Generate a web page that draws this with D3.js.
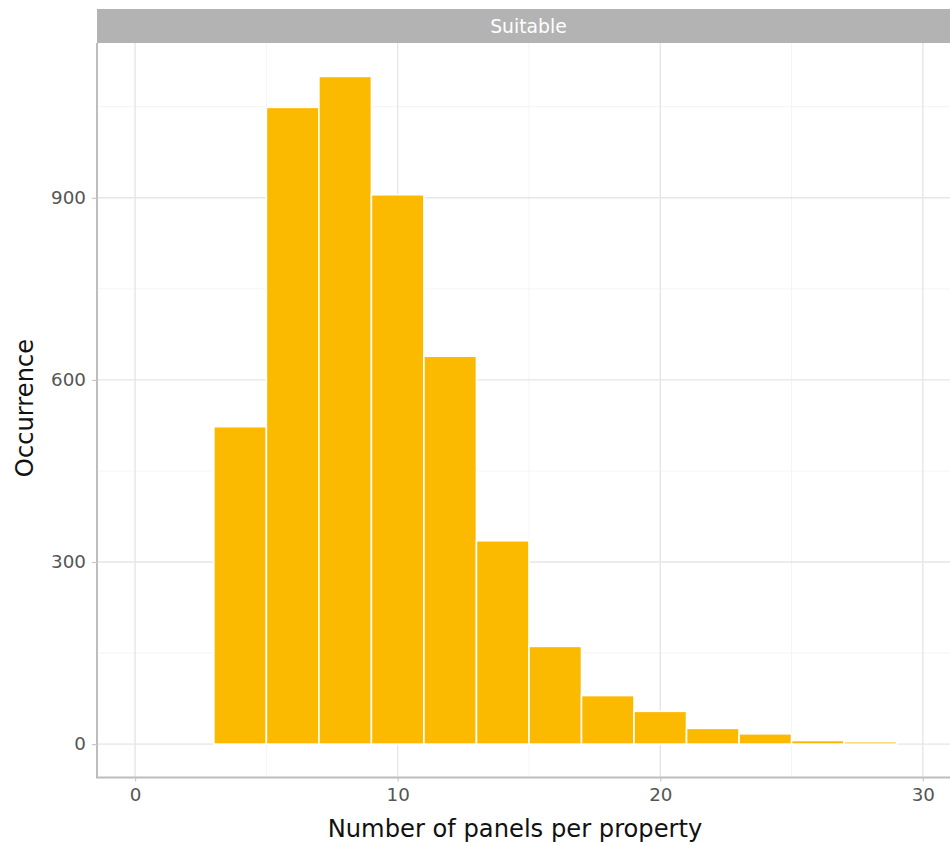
<!DOCTYPE html>
<html>
<head>
<meta charset="utf-8">
<script src="https://cdn.jsdelivr.net/npm/d3@7"></script>
<style>
  html, body { margin: 0; padding: 0; background: #ffffff; }
  svg { display: block; font-family: "DejaVu Sans", sans-serif; }
</style>
</head>
<body>
<svg id="chart" width="950" height="845"></svg>
<script>
// ---- data ----
const binStarts = [1, 3, 5, 7, 9, 11, 13, 15, 17, 19, 21, 23, 25, 27];
const binWidth = 2;
const counts = [0, 523, 1049, 1100, 905, 639, 335, 161, 80, 54, 26, 17, 6, 4];
const xTicks = [0, 10, 20, 30];
const xMinor = [5, 15, 25];
const yTicks = [0, 300, 600, 900];
const yMinor = [150, 450, 750, 1050];
const facetLabel = "Suitable";
const xTitle = "Number of panels per property";
const yTitle = "Occurrence";

// ---- layout ----
const svg = d3.select("#chart");
const panel = { left: 97, right: 957, top: 43, bottom: 777.5 };

const x = d3.scaleLinear().domain([-1.45, 31.3]).range([panel.left, panel.right]);
const y = d3.scaleLinear().domain([-55, 1155]).range([panel.bottom, panel.top]);

// strip
svg.append("rect")
  .attr("x", panel.left).attr("y", 9)
  .attr("width", panel.right - panel.left).attr("height", panel.top - 9)
  .attr("fill", "#b3b3b3");
svg.append("text")
  .attr("x", 528.5).attr("y", 26)
  .attr("text-anchor", "middle").attr("dominant-baseline", "central")
  .attr("fill", "#ffffff").attr("font-size", 18.8)
  .text(facetLabel);

const g = svg.append("g");

// minor gridlines
g.selectAll(".ymin").data(yMinor).join("line")
  .attr("x1", panel.left).attr("x2", panel.right)
  .attr("y1", d => y(d)).attr("y2", d => y(d))
  .attr("stroke", "#f4f4f4").attr("stroke-width", 1);
g.selectAll(".xmin").data(xMinor).join("line")
  .attr("y1", panel.top).attr("y2", panel.bottom)
  .attr("x1", d => x(d)).attr("x2", d => x(d))
  .attr("stroke", "#f4f4f4").attr("stroke-width", 1);
// major gridlines
g.selectAll(".ymaj").data(yTicks).join("line")
  .attr("x1", panel.left).attr("x2", panel.right)
  .attr("y1", d => y(d)).attr("y2", d => y(d))
  .attr("stroke", "#e6e6e6").attr("stroke-width", 1.4);
g.selectAll(".xmaj").data(xTicks).join("line")
  .attr("y1", panel.top).attr("y2", panel.bottom)
  .attr("x1", d => x(d)).attr("x2", d => x(d))
  .attr("stroke", "#e6e6e6").attr("stroke-width", 1.4);

// bars
const bins = binStarts.map((s, i) => ({ x0: s, x1: s + binWidth, n: counts[i] }));
g.selectAll(".bar").data(bins).join("rect")
  .attr("x", d => x(d.x0))
  .attr("width", d => x(d.x1) - x(d.x0))
  .attr("y", d => y(d.n))
  .attr("height", d => y(0) - y(d.n))
  .attr("fill", d => d.n > 0 ? "#fbb900" : "none")
  .attr("stroke", "#ffffff").attr("stroke-width", 1.6);

// axes
const xAxis = d3.axisBottom(x).tickValues(xTicks).tickSize(4).tickPadding(7).tickFormat(d3.format("d"));
const yAxis = d3.axisLeft(y).tickValues(yTicks).tickSize(5).tickPadding(6).tickFormat(d3.format("d"));

const gx = svg.append("g").attr("transform", `translate(0,${panel.bottom})`).call(xAxis);
gx.select(".domain").attr("stroke", "#bdbdbd").attr("stroke-width", 2)
  .attr("d", `M${panel.left},0H${panel.right}`);
gx.selectAll(".tick line").attr("stroke", "#c8c8c8").attr("stroke-width", 1.2);
gx.selectAll(".tick text").attr("fill", "#555555").attr("font-size", 18.3)
  .attr("font-family", "DejaVu Sans, sans-serif");

const gy = svg.append("g").attr("transform", `translate(${panel.left},0)`).call(yAxis);
gy.select(".domain").attr("stroke", "#bdbdbd").attr("stroke-width", 2)
  .attr("d", `M0,${panel.top}V${panel.bottom + 1}`);
gy.selectAll(".tick line").attr("stroke", "#c8c8c8").attr("stroke-width", 1.2);
gy.selectAll(".tick text").attr("fill", "#555555").attr("font-size", 18.3)
  .attr("font-family", "DejaVu Sans, sans-serif");

// titles
svg.append("text")
  .attr("x", 515).attr("y", 837)
  .attr("text-anchor", "middle").attr("fill", "#111111").attr("font-size", 24.2)
  .text(xTitle);
svg.append("text")
  .attr("transform", `translate(33,${408}) rotate(-90)`)
  .attr("text-anchor", "middle").attr("fill", "#111111").attr("font-size", 24.2)
  .text(yTitle);
</script>
</body>
</html>
